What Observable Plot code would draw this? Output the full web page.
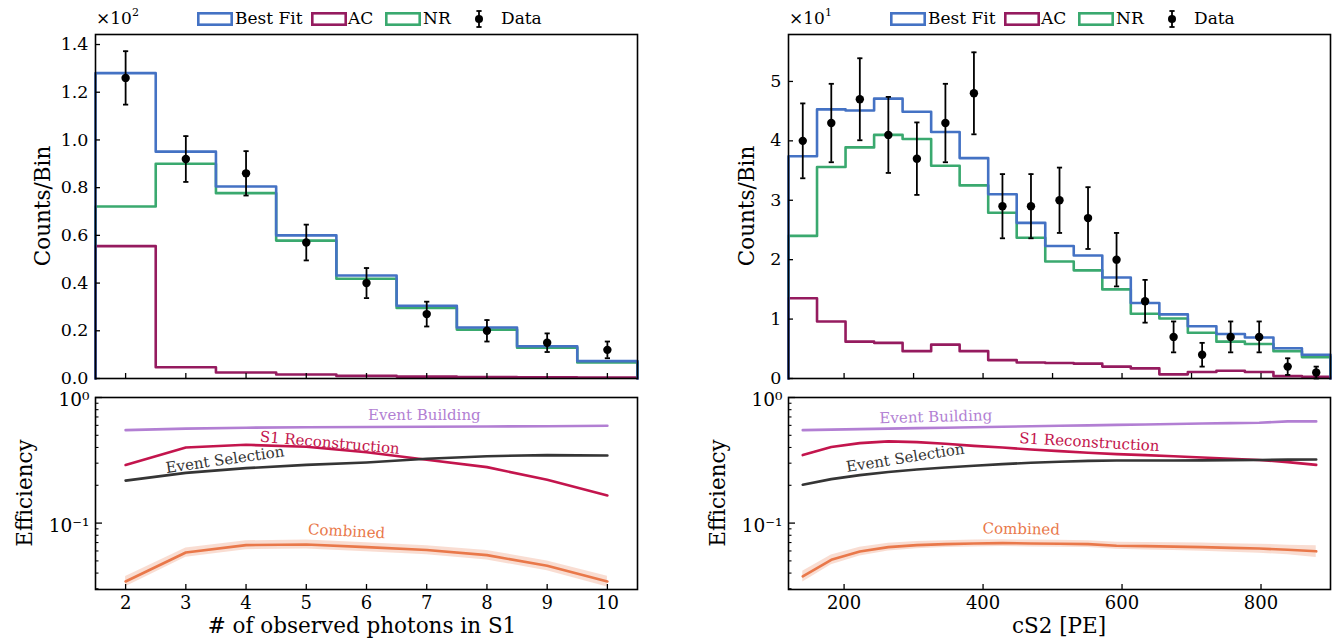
<!DOCTYPE html>
<html><head><meta charset="utf-8">
<script src="https://cdn.jsdelivr.net/npm/d3@7"></script>
<script src="https://cdn.jsdelivr.net/npm/@observablehq/plot@0.6"></script>
<style>
body{margin:0;background:#fff;}
#root{position:relative;width:1332px;height:644px;overflow:hidden;font-family:"DejaVu Serif","Liberation Serif",serif;color:#000;}
#root svg text{font-family:"DejaVu Serif","Liberation Serif",serif;}
.abs{position:absolute;white-space:nowrap;}
.ylab{position:absolute;transform:translate(-50%,-50%) rotate(-90deg);white-space:nowrap;font-size:21.5px;}
.xlab{position:absolute;transform:translateX(-50%);white-space:nowrap;font-size:21.5px;}
.leg{position:absolute;font-size:17px;line-height:1;}
</style></head><body><div id="root"></div>
<script>
// ---------------- data ----------------
// Left: number of observed photons in S1 (bins of width 1, centres 2..10), counts
const s1Centers = [2, 3, 4, 5, 6, 7, 8, 9, 10];
const s1BestFit = [128, 95.1, 80.5, 60.0, 43.2, 30.5, 21.4, 13.5, 7.3];
const s1NR      = [72.1, 90.0, 77.7, 57.8, 41.8, 29.6, 20.5, 12.9, 6.7];
const s1AC      = [55.5, 4.7, 2.5, 1.7, 1.1, 0.8, 0.6, 0.5, 0.4];
const s1Data    = [126, 92, 86, 57, 40, 27, 20, 15, 12];
const s1Err     = [11.2, 9.6, 9.3, 7.5, 6.3, 5.2, 4.5, 3.9, 3.5];

// Right: cS2 [PE], 19 bins between 120 and 900 PE
const cs2Edges   = [120, 161.05, 202.1, 243.2, 284.2, 325.3, 366.3, 407.4, 448.4, 489.5, 530.5, 571.6, 612.6, 653.7, 694.7, 735.8, 776.8, 817.9, 858.9, 900];
const cs2BestFit = [37.4, 45.3, 45.1, 47.1, 44.9, 41.5, 37.1, 31.0, 26.2, 22.3, 20.7, 17.0, 12.7, 10.8, 8.8, 7.5, 6.9, 5.1, 4.0];
const cs2NR      = [24.0, 35.6, 38.9, 41.0, 40.3, 35.8, 32.5, 27.9, 23.7, 19.7, 18.2, 15.0, 10.9, 10.1, 7.7, 6.2, 5.8, 4.6, 3.6];
const cs2AC      = [13.5, 9.6, 6.2, 6.0, 4.6, 5.7, 4.6, 3.1, 2.7, 2.6, 2.5, 2.0, 1.7, 0.7, 1.1, 1.3, 1.1, 0.4, 0.3];
const cs2Data    = [40, 43, 47, 41, 37, 43, 48, 29, 29, 30, 27, 20, 13, 7, 4, 7, 7, 2, 1];
const cs2Err     = [6.3, 6.6, 6.9, 6.4, 6.1, 6.6, 6.9, 5.4, 5.4, 5.5, 5.2, 4.5, 3.6, 2.6, 2.0, 2.6, 2.6, 1.4, 1.0];

// Efficiencies (left, at S1 = 2..10)
const s1EffBuilding  = [0.55, 0.565, 0.575, 0.58, 0.583, 0.585, 0.588, 0.59, 0.595];
const s1EffRecon     = [0.29, 0.40, 0.42, 0.405, 0.367, 0.319, 0.279, 0.221, 0.166];
const s1EffSelection = [0.218, 0.251, 0.274, 0.291, 0.304, 0.325, 0.341, 0.348, 0.345];
const s1EffCombined  = [0.0343, 0.0583, 0.0668, 0.0676, 0.0644, 0.061, 0.0556, 0.0457, 0.0343];
const s1EffCombLo    = [0.0312, 0.0535, 0.0614, 0.0622, 0.0592, 0.0561, 0.0509, 0.0417, 0.0310];
const s1EffCombHi    = [0.0376, 0.0633, 0.0724, 0.0732, 0.0698, 0.0661, 0.0605, 0.0499, 0.0378];

// Efficiencies (right, at cS2 bin centres)
const cs2EffBuilding  = [0.55, 0.555, 0.56, 0.565, 0.57, 0.575, 0.58, 0.585, 0.59, 0.595, 0.60, 0.605, 0.61, 0.615, 0.62, 0.625, 0.63, 0.645, 0.645];
const cs2EffRecon     = [0.348, 0.403, 0.433, 0.447, 0.441, 0.428, 0.412, 0.400, 0.385, 0.374, 0.363, 0.354, 0.348, 0.341, 0.333, 0.325, 0.318, 0.306, 0.291];
const cs2EffSelection = [0.202, 0.224, 0.241, 0.255, 0.267, 0.277, 0.286, 0.295, 0.302, 0.308, 0.313, 0.315, 0.315, 0.315, 0.316, 0.317, 0.318, 0.320, 0.321];
const cs2EffCombined  = [0.0376, 0.051, 0.0594, 0.0644, 0.0668, 0.068, 0.0688, 0.0693, 0.0688, 0.0685, 0.068, 0.066, 0.0656, 0.065, 0.0644, 0.0635, 0.0627, 0.0613, 0.0596];
const cs2EffCombLo    = [0.0340, 0.0465, 0.0548, 0.0600, 0.0626, 0.0638, 0.0646, 0.0651, 0.0646, 0.0643, 0.0638, 0.0618, 0.0612, 0.0605, 0.0597, 0.0586, 0.0576, 0.0560, 0.0533];
const cs2EffCombHi    = [0.0414, 0.0557, 0.0642, 0.0690, 0.0712, 0.0724, 0.0732, 0.0737, 0.0732, 0.0729, 0.0724, 0.0704, 0.0702, 0.0697, 0.0693, 0.0686, 0.0680, 0.0667, 0.0660];

// Axis ticks
const s1Ticks = [2, 3, 4, 5, 6, 7, 8, 9, 10];
const s1CountTicks = [0, 0.2, 0.4, 0.6, 0.8, 1.0, 1.2, 1.4];
const cs2CountTicks = [0, 1, 2, 3, 4, 5];
const cs2TopTicks = [200, 300, 400, 500, 600, 700, 800];
const cs2BottomTicks = [200, 400, 600, 800];
const effMajorTicks = [0.1, 1];
const effMinorTicks = [0.03, 0.04, 0.05, 0.06, 0.07, 0.08, 0.09, 0.2, 0.3, 0.4, 0.5, 0.6, 0.7, 0.8, 0.9];

// Efficiency curve annotations
const effNames = ["Event Building", "S1 Reconstruction", "Event Selection", "Combined"];
const s1LabelPos  = [[6.96, 0.728, 0], [5.39, 0.435, 5], [3.65, 0.319, -8], [5.67, 0.0857, 3]];
const cs2LabelPos = [[332, 0.70, -1.5], [553, 0.44, 3.3], [288, 0.33, -9], [455, 0.0895, 1]];

// ---------------- styling ----------------
const C = {best: "#4472c4", ac: "#951b5f", nr: "#3aa96f",
           build: "#b27fd3", recon: "#c3154d", sel: "#353535", comb: "#e9784a"};
const effColors = [C.build, C.recon, C.sel, C.comb];
const FONT = '"DejaVu Serif", "Liberation Serif", serif';
const root = document.getElementById("root");

function place(node, left, top) {
  node.style.position = "absolute";
  node.style.left = left + "px";
  node.style.top = top + "px";
  node.style.background = "transparent";
  root.appendChild(node);
}

const capSymbol = {draw(ctx) { ctx.moveTo(-2.6, 0); ctx.lineTo(2.6, 0); }};

function stepRows(edges, vals, div) {
  const rows = [{x: edges[0], y: 0}];
  vals.forEach((v, i) => rows.push({x: edges[i], y: v / div}));
  rows.push({x: edges[edges.length - 1], y: vals[vals.length - 1] / div});
  rows.push({x: edges[edges.length - 1], y: 0});
  return rows;
}

function topPanel({edges, centers, best, nr, ac, data, err, div, yMax, yTicks, yFmt, xTicks, left, width, mL, mR}) {
  const pts = centers.map((c, i) => ({x: c, y: data[i] / div, lo: (data[i] - err[i]) / div, hi: (data[i] + err[i]) / div}));
  const caps = pts.flatMap(p => [{x: p.x, y: p.lo}, {x: p.x, y: p.hi}]);
  const plot = Plot.plot({
    width, height: 388,
    marginLeft: mL, marginRight: mR, marginTop: 34, marginBottom: 10,
    style: {fontFamily: FONT, fontSize: "17px", color: "#000", background: "transparent"},
    x: {domain: [edges[0], edges[edges.length - 1]]},
    y: {domain: [0, yMax]},
    marks: [
      Plot.line(stepRows(edges, nr, div), {x: "x", y: "y", curve: "step-after", stroke: C.nr, strokeWidth: 2.6}),
      Plot.line(stepRows(edges, ac, div), {x: "x", y: "y", curve: "step-after", stroke: C.ac, strokeWidth: 2.6}),
      Plot.line(stepRows(edges, best, div), {x: "x", y: "y", curve: "step-after", stroke: C.best, strokeWidth: 2.6}),
      Plot.ruleX(pts, {x: "x", y1: "lo", y2: "hi", stroke: "#000", strokeWidth: 1.8}),
      Plot.dot(caps, {x: "x", y: "y", symbol: capSymbol, stroke: "#000", strokeWidth: 1.8, r: 3}),
      Plot.dot(pts, {x: "x", y: "y", r: 4.2, fill: "#000", stroke: "none"}),
      Plot.axisY({ticks: yTicks, tickFormat: yFmt, tickSize: -5, tickPadding: 12, fontSize: 17.5, strokeWidth: 1.3, label: null}),
      Plot.axisX({ticks: xTicks, tickFormat: () => "", tickSize: -5, strokeWidth: 1.3, label: null}),
      Plot.frame({stroke: "#000", strokeWidth: 1.6})
    ]
  });
  place(plot, left, 0);
}

function bottomPanel({xs, xDomain, xTicks, eff, lo, hi, labelPos, left, width, mL, mR}) {
  const rows = (arr) => xs.map((x, i) => ({x, y: arr[i]}));
  const band = xs.map((x, i) => ({x, lo: lo[i], hi: hi[i]}));
  const labels = effNames.map((n, i) => ({name: n, x: labelPos[i][0], y: labelPos[i][1], rot: labelPos[i][2], color: effColors[i]}));
  const plot = Plot.plot({
    width, height: 274,
    marginLeft: mL, marginRight: mR, marginTop: 27, marginBottom: 55,
    style: {fontFamily: FONT, fontSize: "17px", color: "#000", background: "transparent"},
    x: {domain: xDomain},
    y: {type: "log", domain: [0.0296, 1]},
    marks: [
      Plot.areaY(band, {x: "x", y1: "lo", y2: "hi", fill: C.comb, fillOpacity: 0.25}),
      Plot.line(rows(eff[0]), {x: "x", y: "y", stroke: C.build, strokeWidth: 2.6}),
      Plot.line(rows(eff[1]), {x: "x", y: "y", stroke: C.recon, strokeWidth: 2.6}),
      Plot.line(rows(eff[2]), {x: "x", y: "y", stroke: C.sel, strokeWidth: 2.6}),
      Plot.line(rows(eff[3]), {x: "x", y: "y", stroke: C.comb, strokeWidth: 2.6}),
      ...labels.map(l => Plot.text([l], {x: "x", y: "y", text: "name", fill: "color", rotate: l.rot, fontSize: 15})),
      Plot.axisY({ticks: effMinorTicks, tickFormat: () => "", tickSize: -3.5, strokeWidth: 1.1, label: null}),
      Plot.axisY({ticks: effMajorTicks, tickFormat: () => "", tickSize: -7, strokeWidth: 1.3, label: null}),
      Plot.axisY({ticks: effMajorTicks, tickFormat: d => d === 1 ? "10\u2070" : "10\u207B\u00B9", tickSize: 0, tickPadding: 6, fontSize: 18.5, dy: 3, label: null}),
      Plot.axisX({ticks: xTicks, tickSize: -5, tickPadding: 12, fontSize: 18, strokeWidth: 1.3, label: null, tickFormat: d => String(d)}),
      Plot.frame({stroke: "#000", strokeWidth: 1.6})
    ]
  });
  place(plot, left, 370);
}

const cs2Centers = cs2BestFit.map((_, i) => (cs2Edges[i] + cs2Edges[i + 1]) / 2);
const s1Edges = [...s1Centers.map(c => c - 0.5), s1Centers[s1Centers.length - 1] + 0.5];

topPanel({edges: s1Edges, centers: s1Centers, best: s1BestFit, nr: s1NR, ac: s1AC, data: s1Data, err: s1Err,
  div: 100, yMax: 1.442, yTicks: s1CountTicks, yFmt: d3.format(".1f"), xTicks: s1Ticks, left: 0, width: 660, mL: 95, mR: 23});
topPanel({edges: cs2Edges, centers: cs2Centers, best: cs2BestFit, nr: cs2NR, ac: cs2AC, data: cs2Data, err: cs2Err,
  div: 10, yMax: 5.79, yTicks: cs2CountTicks, yFmt: d3.format("d"), xTicks: cs2TopTicks, left: 700, width: 632, mL: 88, mR: 2});
bottomPanel({xs: s1Centers, xDomain: [1.5, 10.5], xTicks: s1Ticks,
  eff: [s1EffBuilding, s1EffRecon, s1EffSelection, s1EffCombined], lo: s1EffCombLo, hi: s1EffCombHi,
  labelPos: s1LabelPos, left: 0, width: 660, mL: 95, mR: 23});
bottomPanel({xs: cs2Centers, xDomain: [120, 900], xTicks: cs2BottomTicks,
  eff: [cs2EffBuilding, cs2EffRecon, cs2EffSelection, cs2EffCombined], lo: cs2EffCombLo, hi: cs2EffCombHi,
  labelPos: cs2LabelPos, left: 700, width: 632, mL: 88, mR: 2});

// ---------------- text: axis labels, multipliers, legends ----------------
function html(tag, cls, text, styles) {
  const el = document.createElement(tag);
  if (cls) el.className = cls;
  el.innerHTML = text;
  Object.assign(el.style, styles || {});
  root.appendChild(el);
  return el;
}
html("div", "ylab", "Counts/Bin", {left: "42px", top: "206px"});
html("div", "ylab", "Counts/Bin", {left: "746px", top: "206px"});
html("div", "ylab", "Efficiency", {left: "24px", top: "493px"});
html("div", "ylab", "Efficiency", {left: "717px", top: "493px"});
html("div", "xlab", "# of observed photons in S1", {left: "362px", top: "613px"});
html("div", "xlab", "cS2 [PE]", {left: "1059px", top: "613px"});
html("div", "abs", "\u00D710<sup style='font-size:11px;vertical-align:8px'>2</sup>", {left: "96px", top: "6px", fontSize: "17px"});
html("div", "abs", "\u00D710<sup style='font-size:11px;vertical-align:8px'>1</sup>", {left: "789px", top: "6px", fontSize: "17px"});

const legendItems = [
  {label: "Best Fit", color: C.best, swatch: 102, text: 140},
  {label: "AC", color: C.ac, swatch: 216, text: 253},
  {label: "NR", color: C.nr, swatch: 290, text: 328},
  {label: "Data", color: "#000", swatch: null, sym: 384, text: 406}
];
function legend(frameLeft) {
  for (const it of legendItems) {
    if (it.swatch != null) {
      html("div", "leg", `<svg width="36" height="14"><rect x="1.3" y="1.3" width="33.4" height="11.4" fill="none" stroke="${it.color}" stroke-width="2.6"/></svg>`,
        {left: (frameLeft + it.swatch) + "px", top: "12px"});
    } else {
      html("div", "leg", `<svg width="10" height="20"><line x1="5" y1="2" x2="5" y2="18" stroke="#000" stroke-width="1.8"/><line x1="2.4" y1="2" x2="7.6" y2="2" stroke="#000" stroke-width="1.8"/><line x1="2.4" y1="18" x2="7.6" y2="18" stroke="#000" stroke-width="1.8"/><circle cx="5" cy="10" r="4" fill="#000"/></svg>`,
        {left: (frameLeft + it.sym - 5) + "px", top: "9px"});
    }
    html("div", "leg", it.label, {left: (frameLeft + it.text) + "px", top: "10px"});
  }
}
legend(95);
legend(788);
</script></body></html>
